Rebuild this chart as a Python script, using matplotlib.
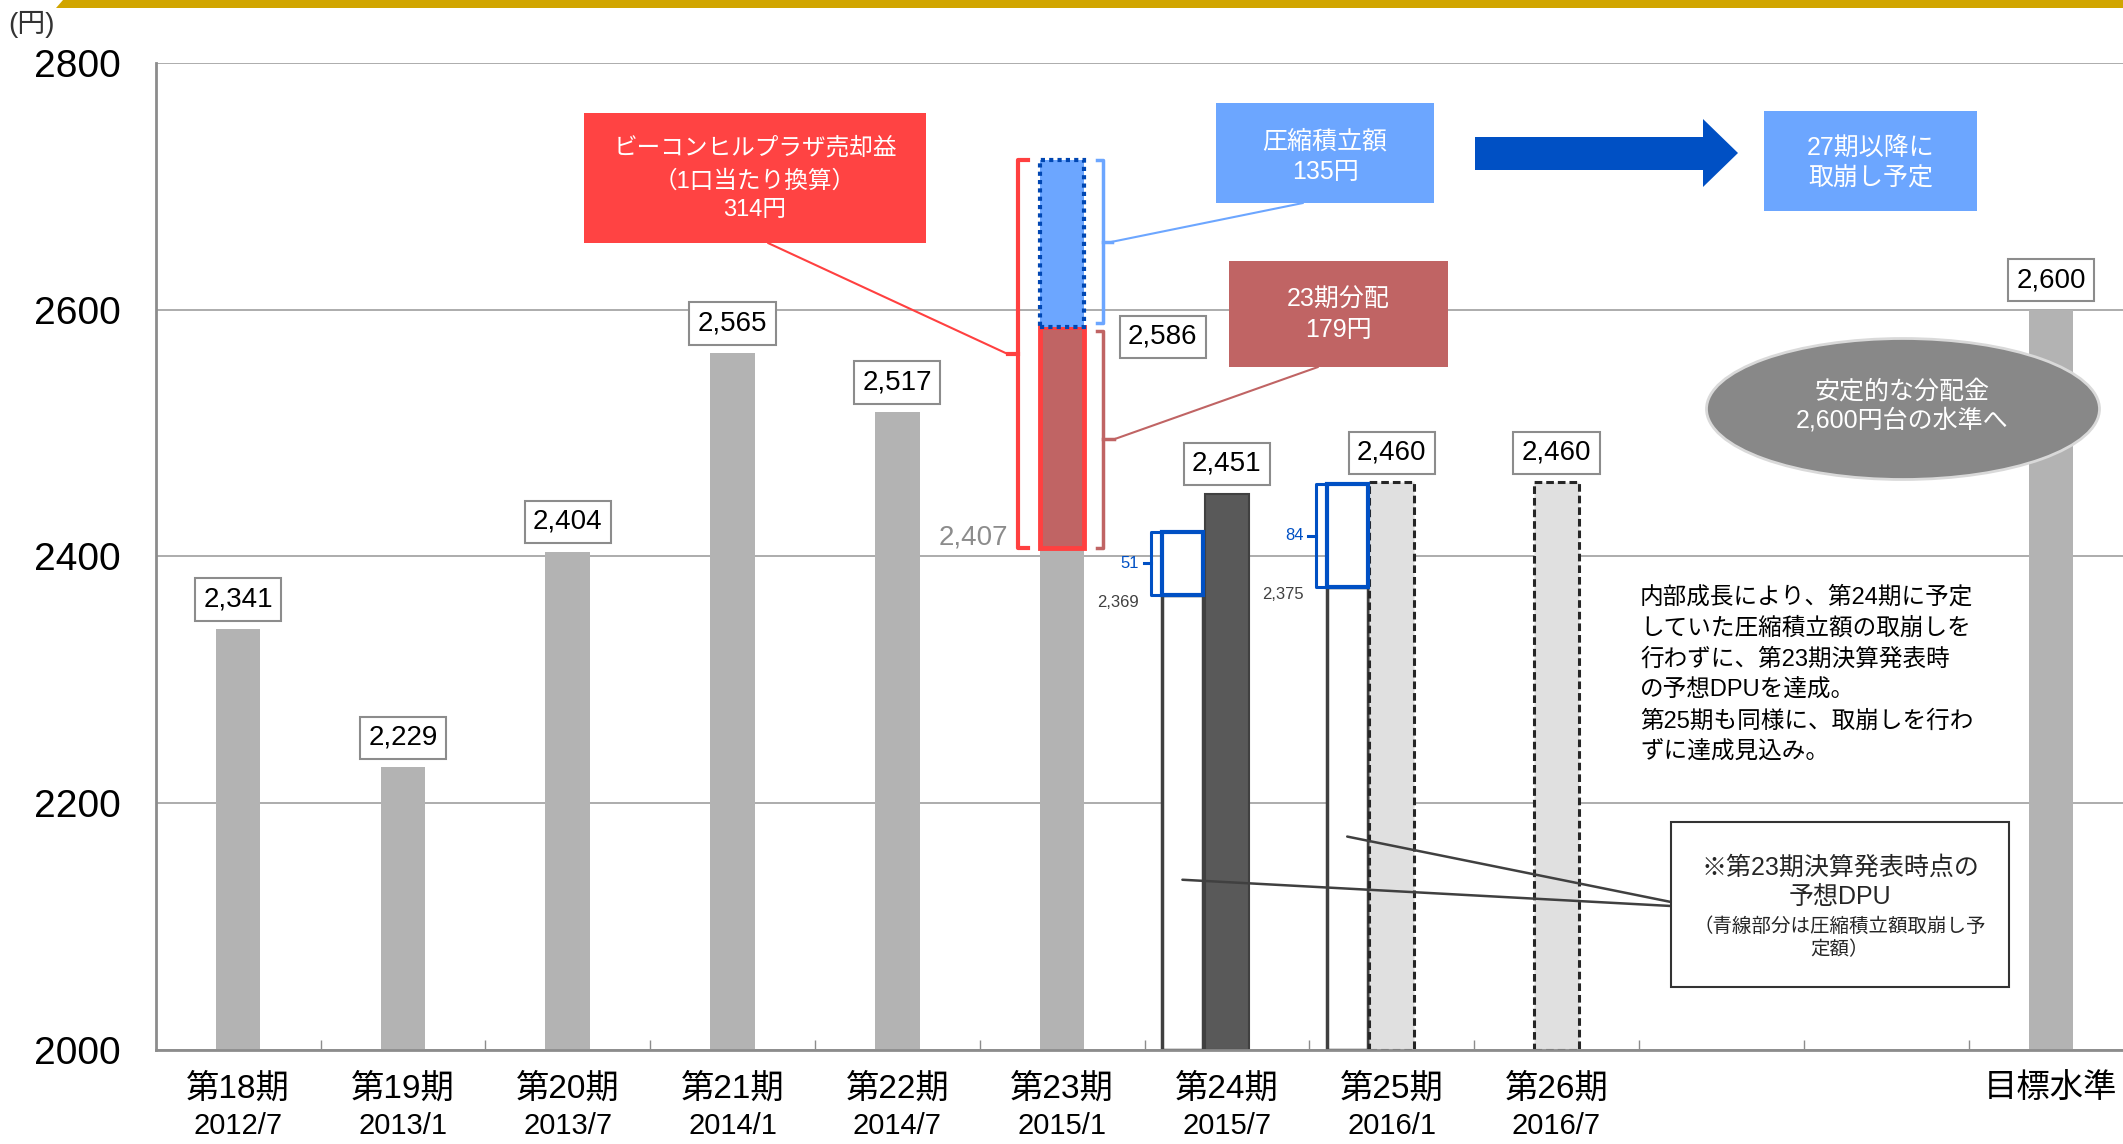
import numpy as np
import matplotlib
matplotlib.use("Agg")
import matplotlib.pyplot as plt
import matplotlib.transforms as mtransforms
from matplotlib.patches import Rectangle, Ellipse, Polygon, ConnectionPatch

plt.rcParams['font.family'] = ['Liberation Sans', 'Noto Sans CJK JP']

W, H = 2123, 1144

periods = ['第18期', '第19期', '第20期', '第21期', '第22期', '第23期',
           '第24期', '第25期', '第26期', '', '', '目標水準']
months = ['2012/7', '2013/1', '2013/7', '2014/1', '2014/7', '2015/1',
          '2015/7', '2016/1', '2016/7', '', '', '']

past_dpu = [2341, 2229, 2404, 2565, 2517]   # 第18期〜第22期 実績
dpu23_base = 2407                            # 第23期 売却益控除後
dpu23_paid = 179                             # 23期分配
dpu23_reserve = 135                          # 圧縮積立額
dpu24 = 2451
old_forecast = [2369, 2375]                  # 第23期決算発表時点の予想DPU (24, 25期)
old_drawdown = [51, 84]                      # 圧縮積立額取崩し予定額
new_forecast = [2460, 2460]                  # 25, 26期 予想
target = 2600

GRAY = '#B3B3B3'
RED = '#FF4343'
ROSE = '#C06464'
LBLUE = '#6CA6FF'
DBLUE = '#0050C4'

fig = plt.figure(figsize=(W / 100, H / 100), dpi=100)
ax = fig.add_axes([155.7 / W, 1 - 1050 / H, 12 * 164.8 / W, 987 / H])
ax.set_xlim(-0.5, 11.5)
ax.set_ylim(2000, 2800)

# pixel coordinates, origin at top-left
pix = mtransforms.Affine2D().scale(1 / W, -1 / H).translate(0, 1) + fig.transFigure

x = np.arange(len(periods))
bw = 0.27

# bars
ax.bar(x[:5], np.array(past_dpu) - 2000, bottom=2000, width=bw, color=GRAY, zorder=2)
ax.bar(5, dpu23_base - 2000, bottom=2000, width=bw, color=GRAY, zorder=2)
top_paid = dpu23_base + dpu23_paid
top_reserve = top_paid + dpu23_reserve
ax.bar(5, dpu23_paid, bottom=dpu23_base, width=bw, fc=ROSE, ec='#FF4040', lw=3.5, zorder=3)
ax.bar(5, dpu23_reserve, bottom=top_paid, width=bw, fc=LBLUE, ec='#0047B3', lw=3,
       ls=(0, (1, 1)), zorder=3)

xo = np.array([6, 7]) - 0.27
ow = 0.25
ax.bar(xo, np.array(old_forecast) - 2000, bottom=2000, width=ow, fc='white',
       ec='#404040', lw=2.5, zorder=2)
ax.bar(xo, old_drawdown, bottom=old_forecast, width=ow, fc='white', ec=DBLUE, lw=3, zorder=3)
ax.bar(6, dpu24 - 2000, bottom=2000, width=bw, fc='#595959', ec='#404040', lw=1.5, zorder=2)
ax.bar([7, 8], np.array(new_forecast) - 2000, bottom=2000, width=bw, fc='#E0E0E0',
       ec='#262626', lw=2.2, ls=(0, (2.5, 1.3)), zorder=2)
ax.bar(11, target - 2000, bottom=2000, width=bw, color=GRAY, zorder=2)


def value_box(xx, yy, v):
    ax.text(xx, yy, f'{v:,}', ha='center', va='center', fontsize=20, zorder=6,
            bbox=dict(boxstyle='square,pad=0.3', fc='white', ec='#8C8C8C', lw=1.5))


for xx, v in zip(x[:5], past_dpu):
    value_box(xx, v + 24, v)
value_box(6, dpu24 + 24, dpu24)
for xx, v in zip([7, 8], new_forecast):
    value_box(xx, v + 24, v)
value_box(11, target + 24, target)
value_box(5.61, top_paid - 8, top_paid)

ax.text(4.67, dpu23_base + 8, f'{dpu23_base:,}', ha='right', va='center',
        fontsize=20, color='#8C8C8C')


def bracket(bx, y0, y1, hook, tip, color, lw):
    ym = (y0 + y1) / 2
    ax.plot([bx + hook, bx, bx, bx + hook], [y0, y0, y1, y1], color=color, lw=lw,
            clip_on=False, solid_joinstyle='round', zorder=4)
    ax.plot([bx, bx + tip], [ym, ym], color=color, lw=lw, clip_on=False, zorder=4)
    return bx + tip, ym


red_tip = bracket(5 - 0.268, dpu23_base, top_reserve, 0.06, -0.06, '#FF4040', 3)
blue_tip = bracket(5 + 0.25, top_paid + 3, top_reserve, -0.04, 0.05, LBLUE, 2.5)
rose_tip = bracket(5 + 0.25, dpu23_base, top_paid - 3, -0.04, 0.065, ROSE, 2.5)

for xx, f, d in zip(xo, old_forecast, old_drawdown):
    bx = xx - ow / 2 - 0.065
    tx, ty = bracket(bx, f, f + d, 0.065, -0.045, DBLUE, 2.2)
    ax.text(tx - 0.03, ty, str(d), ha='right', va='center', fontsize=12, color=DBLUE)
    ax.text(tx - 0.03, f - 6, f'{f:,}', ha='right', va='center', fontsize=12, color='#404040')

# axes styling
for s in ['top', 'right']:
    ax.spines[s].set_visible(False)
for s in ['left', 'bottom']:
    ax.spines[s].set_color('#8C8C8C')
    ax.spines[s].set_linewidth(2)
ax.set_yticks([2000, 2200, 2400, 2600, 2800])
ax.tick_params(axis='y', length=0, pad=25, labelsize=28)
ax.yaxis.grid(True, color='#A6A6A6', lw=1.3)
ax.set_axisbelow(True)
ax.set_xticks(x, periods)
ax.tick_params(axis='x', length=0, pad=17, labelsize=24)
ax.set_xticks(np.arange(0.5, 11, 1), minor=True)
ax.tick_params(axis='x', which='minor', direction='in', length=7, width=1, color='#8C8C8C')

# second row of the category axis: settlement month
month_row = mtransforms.blended_transform_factory(ax.transData, pix)
for xx, m in zip(x, months):
    ax.text(xx, 1126, m, transform=month_row, ha='center', va='center', fontsize=21,
            clip_on=False)


def leader(p_px, p_data, color, lw=1.5):
    fig.add_artist(ConnectionPatch(xyA=p_px, coordsA=pix, xyB=p_data, coordsB=ax.transData,
                                   color=color, lw=lw, zorder=2))


def put_lines(lines, cx, ys, size, color, ha='center'):
    for s, yy in zip(lines, ys):
        fig.text(cx, yy, s, transform=pix, ha=ha, va='center', fontsize=size,
                 color=color, zorder=5)


def callout(x0, y0, x1, y1, color, lines, ys, size):
    fig.add_artist(Rectangle((x0, y0), x1 - x0, y1 - y0, transform=pix, fc=color,
                             ec='none', zorder=3))
    put_lines(lines, (x0 + x1) / 2, ys, size, 'white')


leader((768, 243), red_tip, '#FF4040')
leader((1303, 203), blue_tip, LBLUE)
leader((1318, 367), rose_tip, ROSE)

callout(584, 113, 926, 243, RED, ['ビーコンヒルプラザ売却益', '（1口当たり換算）', '314円'],
        [148, 182, 210], 17)
callout(1216, 103, 1434, 203, LBLUE, ['圧縮積立額', '135円'], [142, 172], 18)
callout(1764, 111, 1977, 211, LBLUE, ['27期以降に', '取崩し予定'], [148, 178], 18)
callout(1229, 261, 1448, 367, ROSE, ['23期分配', '179円'], [300, 330], 18)

fig.add_artist(Polygon([(1475, 137), (1703, 137), (1703, 119), (1738, 153), (1703, 187),
                        (1703, 170), (1475, 170)], transform=pix, fc=DBLUE, ec='none', zorder=3))

fig.add_artist(Ellipse((1903, 409), 393, 141, transform=pix, fc='#888888', ec='#D9D9D9',
                       lw=2, zorder=3))
put_lines(['安定的な分配金', '2,600円台の水準へ'], 1902, [392, 420], 18, 'white')

para = ['内部成長により、第24期に予定', 'していた圧縮積立額の取崩しを', '行わずに、第23期決算発表時',
        'の予想DPUを達成。', '第25期も同様に、取崩しを行わ', 'ずに達成見込み。']
put_lines(para, 1640, [597 + i * 31.2 for i in range(len(para))], 17, 'black', ha='left')

# note on the former forecast
leader((1671, 906), (xo[0], 2138), '#404040', 1.8)
leader((1671, 902), (xo[1], 2173), '#404040', 1.8)
fig.add_artist(Rectangle((1671, 822), 338, 165, transform=pix, fc='white', ec='#333333',
                         lw=1.5, zorder=3))
put_lines(['※第23期決算発表時点の', '予想DPU'], 1840, [868, 897], 18, '#262626')
put_lines(['（青線部分は圧縮積立額取崩し予', '定額）'], 1840, [927, 950], 14, '#262626')

# header band and unit
fig.add_artist(Polygon([(56, 8), (63, 0), (W, 0), (W, 8)], transform=pix, fc='#D1A500',
                       ec='none', zorder=3))
fig.text(8, 24, '(円)', transform=pix, ha='left', va='center', fontsize=20, color='#333333')

fig.savefig('out.png', dpi=100)
